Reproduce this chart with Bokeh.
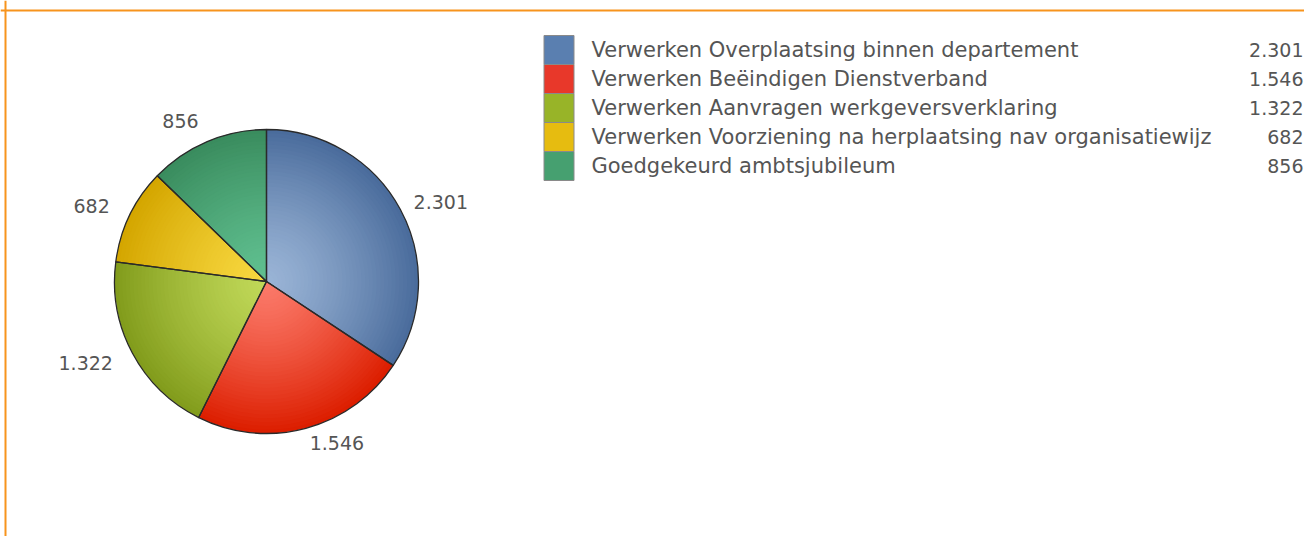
import numpy as np
from bokeh.plotting import figure
from bokeh.models import Range1d, Span
from bokeh.embed import file_html
from bokeh.resources import INLINE
from bokeh.core.properties import value

# ---- data ----
categories = [
    "Verwerken Overplaatsing binnen departement",
    "Verwerken Beëindigen Dienstverband",
    "Verwerken Aanvragen werkgeversverklaring",
    "Verwerken Voorziening na herplaatsing nav organisatiewijz",
    "Goedgekeurd ambtsjubileum",
]
values = [2301, 1546, 1322, 682, 856]
value_labels = ["2.301", "1.546", "1.322", "682", "856"]

# ---- styles ----
outer_colors = ["#4a6c9c", "#dc1e00", "#829c1c", "#d4a600", "#3a8c5e"]
inner_colors = ["#9ab4d6", "#fb7a6a", "#c0d858", "#f8d840", "#60c090"]
legend_colors = ["#5a7fb0", "#e8382a", "#98b428", "#e6bc10", "#46a070"]
FONT = "DejaVu Sans"
TEXT_COLOR = "#555555"

W, H = 1304, 536
TOP = H  # data y = TOP - screen y

p = figure(width=W, height=H, x_range=Range1d(0, W), y_range=Range1d(0, H),
           output_backend="svg", toolbar_location=None, min_border=0,
           x_axis_location=None, y_axis_location=None)
p.xgrid.grid_line_color = None
p.ygrid.grid_line_color = None
p.outline_line_color = None
p.background_fill_color = "white"
p.border_fill_color = "white"

# orange frame (left and top edges)
p.add_layout(Span(location=5, dimension="height", line_color="#f7941d", line_width=2))
p.add_layout(Span(location=TOP - 10, dimension="width", line_color="#f7941d", line_width=2))

# ---- pie ----
cx, cy, R = 266, TOP - 281, 152
vals = np.array(values, dtype=float)
frac = vals / vals.sum()
cum_end = np.cumsum(frac) * 2 * np.pi
cum_start = cum_end - frac * 2 * np.pi
start_angles = np.pi / 2 - cum_start
end_angles = np.pi / 2 - cum_end


def hex2rgb(h):
    h = h.lstrip("#")
    return np.array([int(h[i:i + 2], 16) for i in (0, 2, 4)], dtype=float)


def rgb2hex(c):
    return "#%02x%02x%02x" % tuple(int(round(v)) for v in c)


N = 40
for i in range(len(values)):
    co = hex2rgb(outer_colors[i])
    ci = hex2rgb(inner_colors[i])
    for k in range(N):
        t = 1 - k / N  # 1 at outer edge
        r = R * (1 - k / N)
        col = ci + (co - ci) * (t ** 1.3)
        p.wedge(x=cx, y=cy, radius=r, start_angle=start_angles[i], end_angle=end_angles[i],
                direction="clock", fill_color=rgb2hex(col), line_color=None)

p.wedge(x=[cx] * len(values), y=[cy] * len(values), radius=R,
        start_angle=list(start_angles), end_angle=list(end_angles), direction="clock",
        fill_color=None, line_color="#2a2a2a", line_width=1.3)

# pie labels
mid = (cum_start + cum_end) / 2
right_side = np.sin(mid) > 0
rl = np.where(right_side, R + 15, R + 22)
lx = cx + rl * np.sin(mid)
ly = cy + rl * np.cos(mid)
aligns = ["left" if rs else "right" for rs in right_side]
for i in range(len(values)):
    p.text(x=[lx[i]], y=[ly[i]], text=[value_labels[i]], text_align=aligns[i],
           text_baseline="middle", text_font=value(FONT), text_font_size="19px",
           text_color=TEXT_COLOR)

# ---- legend ----
row_h = 29
leg_top = TOP - 35
ys = [leg_top - row_h * (i + 0.5) for i in range(len(categories))]
p.rect(x=[558.5] * len(categories), y=ys, width=30, height=row_h,
       fill_color=legend_colors, line_color="#8a8a8a", line_width=1)
p.text(x=[591] * len(categories), y=ys, text=categories, text_align="left",
       text_baseline="middle", text_font=value(FONT), text_font_size="21px",
       text_color=TEXT_COLOR)
p.text(x=[1303] * len(categories), y=ys, text=value_labels, text_align="right",
       text_baseline="middle", text_font=value(FONT), text_font_size="19px",
       text_color=TEXT_COLOR)

open("out.html", "w").write(file_html(p, INLINE))
